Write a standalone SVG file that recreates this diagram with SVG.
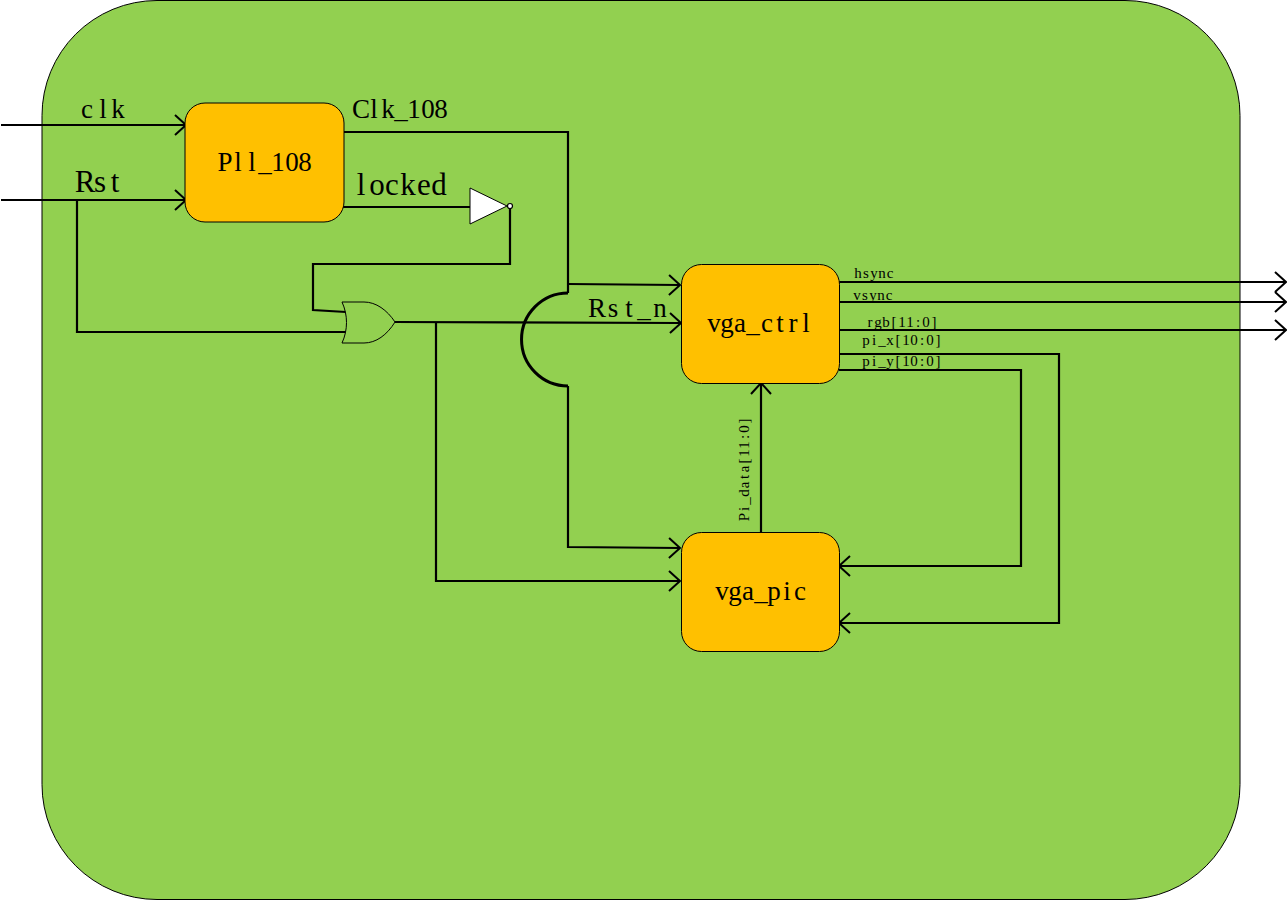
<svg xmlns="http://www.w3.org/2000/svg" width="1287" height="900" viewBox="0 0 1287 900">
<defs>
<marker id="a" markerUnits="userSpaceOnUse" markerWidth="16" markerHeight="22" refX="13" refY="11" orient="auto"><path d="M2 1 L13 11 L2 21" fill="none" stroke="#000" stroke-width="2"/></marker>
</defs>
<style>
.t{font-family:"Liberation Serif",serif;fill:#000;text-anchor:middle}
.m{font-size:27px}.l{font-size:31px}.s{font-size:15px}
.n{fill:#ffc000;stroke:#000;stroke-width:1}
.w{fill:none;stroke:#000;stroke-width:2.2}
.h{marker-end:url(#a)}
</style>
<rect id="bg" x="42" y="0.5" width="1198" height="899" rx="115" ry="115" fill="#92d050" stroke="#000" stroke-width="1"/>
<g id="connectors">
<path class="w h" d="M1 125H186"/>
<path class="w h" d="M1 200H186"/>
<path class="w" d="M343 132H568V293"/>
<path class="w h" d="M568 284L680 285"/>
<path class="w" d="M343 207H470"/>
<path class="w" d="M510 209V264H313V310L346 312"/>
<path class="w" d="M77 200V332H346"/>
<path class="w h" d="M395 322L681 323"/>
<path d="M568 293A46.500 46.500 0 0 0 568 386" fill="none" stroke="#000" stroke-width="3"/>
<path class="w h" d="M568 386V547L680 548"/>
<path class="w h" d="M436 322V581H680"/>
<path class="w h" d="M761 533V383"/>
<path class="w h" d="M839 282H1286"/>
<path class="w h" d="M839 302H1286"/>
<path class="w h" d="M839 330H1286"/>
<path class="w h" d="M839 370H1021V566H839"/>
<path class="w h" d="M839 354H1059V623H839"/>
</g>
<g id="pll"><rect class="n" x="185" y="103" width="159" height="119" rx="20"/><text class="t m" y="171" x="225 238 252 265 278 292 305">Pll_108</text></g>
<g id="vga_ctrl"><rect class="n" x="681.500" y="264.500" width="158" height="119" rx="20"/><text class="t m" y="332" x="714 727 740 753 767 780 793 806">vga_ctrl</text></g>
<g id="vga_pic"><rect class="n" x="681.500" y="532.500" width="158" height="119" rx="20"/><text class="t m" y="600" x="722 735 748 761 774 787 800">vga_pic</text></g>
<g id="not"><path d="M470 188L507 206L470 224Z" fill="#fff" stroke="#000" stroke-width="1"/><circle cx="510" cy="206" r="2.500" fill="#fff" stroke="#000" stroke-width="1.200"/></g>
<g id="or"><path d="M342 302H364C376 302 387 310 395 322C387 335 376 343 364 343H342C348 330 348 315 342 302Z" fill="#92d050" stroke="#000" stroke-width="1"/></g>
<g id="labels">
<text class="t m" y="118" x="87 103 118">clk</text>
<text class="t l" y="192" x="85 100 115">Rst</text>
<text class="t m" y="118" x="361 374 388 401 414 428 441">Clk_108</text>
<text class="t l" y="195" x="361 377 392 408 424 439">locked</text>
<text class="t m" y="317" x="597 613 629 644 660">Rst_n</text>
<text class="t s" y="278" x="858 866 874 882 890">hsync</text>
<text class="t s" y="300" x="857 865 873 881 889">vsync</text>
<text class="t s" y="327" x="870 878 886 894 902 910 918 926 934">rgb[11:0]</text>
<text class="t s" y="345" x="866 874 882 890 898 906 914 922 930 938">pi_x[10:0]</text>
<text class="t s" y="366" x="866 874 882 890 898 906 914 922 930 938">pi_y[10:0]</text>
<text class="t s" transform="translate(749 521) rotate(-90)" x="4 12 20 28 36 44 52 60 68 76 84 92 100">Pi_data[11:0]</text>
</g>
</svg>
